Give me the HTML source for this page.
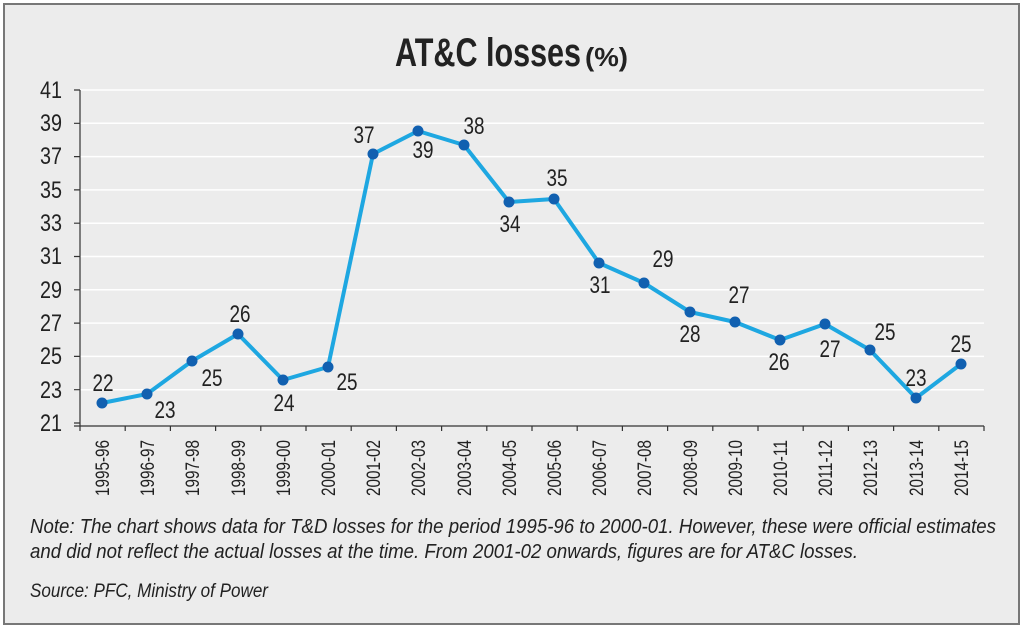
<!DOCTYPE html>
<html><head><meta charset="utf-8"><style>
body{margin:0;background:#fff;}
svg text{font-family:"Liberation Sans",sans-serif;}
</style></head><body>
<svg width="1024" height="629" viewBox="0 0 1024 629" xmlns="http://www.w3.org/2000/svg">
<rect x="4" y="4" width="1015" height="620" fill="#ececec" stroke="#777" stroke-width="2"/>
<text x="395" y="66" font-size="40" font-weight="bold" fill="#222" textLength="186" lengthAdjust="spacingAndGlyphs">AT&amp;C losses</text>
<text x="585" y="66" font-size="26" font-weight="bold" fill="#222" textLength="43" lengthAdjust="spacingAndGlyphs">(%)</text>
<g stroke="#fff" stroke-width="1.5">
<line x1="80" x2="984" y1="90" y2="90"/><line x1="80" x2="984" y1="123.3" y2="123.3"/><line x1="80" x2="984" y1="156.6" y2="156.6"/><line x1="80" x2="984" y1="189.9" y2="189.9"/><line x1="80" x2="984" y1="223.2" y2="223.2"/><line x1="80" x2="984" y1="256.5" y2="256.5"/><line x1="80" x2="984" y1="289.8" y2="289.8"/><line x1="80" x2="984" y1="323.1" y2="323.1"/><line x1="80" x2="984" y1="356.4" y2="356.4"/><line x1="80" x2="984" y1="389.7" y2="389.7"/>
</g>
<g stroke="#333" stroke-width="1.2" fill="none">
<line x1="80" y1="90" x2="80" y2="426"/><line x1="74" y1="426" x2="984" y2="426"/>
<path d="M74 90h6M74 123.3h6M74 156.6h6M74 189.9h6M74 223.2h6M74 256.5h6M74 289.8h6M74 323.1h6M74 356.4h6M74 389.7h6M74 423h6"/>
<path d="M80 426v5M125.2 426v5M170.4 426v5M215.6 426v5M260.8 426v5M306 426v5M351.2 426v5M396.4 426v5M441.6 426v5M486.8 426v5M532 426v5M577.2 426v5M622.4 426v5M667.6 426v5M712.8 426v5M758 426v5M803.2 426v5M848.4 426v5M893.6 426v5M938.8 426v5M984 426v5"/>
</g>
<g font-size="24" fill="#222" text-anchor="end">
<text x="62" y="98" textLength="22" lengthAdjust="spacingAndGlyphs">41</text><text x="62" y="131" textLength="22" lengthAdjust="spacingAndGlyphs">39</text><text x="62" y="164" textLength="22" lengthAdjust="spacingAndGlyphs">37</text><text x="62" y="198" textLength="22" lengthAdjust="spacingAndGlyphs">35</text><text x="62" y="231" textLength="22" lengthAdjust="spacingAndGlyphs">33</text><text x="62" y="264" textLength="22" lengthAdjust="spacingAndGlyphs">31</text><text x="62" y="298" textLength="22" lengthAdjust="spacingAndGlyphs">29</text><text x="62" y="331" textLength="22" lengthAdjust="spacingAndGlyphs">27</text><text x="62" y="364" textLength="22" lengthAdjust="spacingAndGlyphs">25</text><text x="62" y="398" textLength="22" lengthAdjust="spacingAndGlyphs">23</text><text x="62" y="431" textLength="22" lengthAdjust="spacingAndGlyphs">21</text>
</g>
<g font-size="19" fill="#222" text-anchor="end">
<text transform="translate(109,440) rotate(-90)" textLength="56" lengthAdjust="spacingAndGlyphs">1995-96</text>
<text transform="translate(154,440) rotate(-90)" textLength="56" lengthAdjust="spacingAndGlyphs">1996-97</text>
<text transform="translate(199,440) rotate(-90)" textLength="56" lengthAdjust="spacingAndGlyphs">1997-98</text>
<text transform="translate(245,440) rotate(-90)" textLength="56" lengthAdjust="spacingAndGlyphs">1998-99</text>
<text transform="translate(290,440) rotate(-90)" textLength="56" lengthAdjust="spacingAndGlyphs">1999-00</text>
<text transform="translate(335,440) rotate(-90)" textLength="56" lengthAdjust="spacingAndGlyphs">2000-01</text>
<text transform="translate(380,440) rotate(-90)" textLength="56" lengthAdjust="spacingAndGlyphs">2001-02</text>
<text transform="translate(425,440) rotate(-90)" textLength="56" lengthAdjust="spacingAndGlyphs">2002-03</text>
<text transform="translate(471,440) rotate(-90)" textLength="56" lengthAdjust="spacingAndGlyphs">2003-04</text>
<text transform="translate(516,440) rotate(-90)" textLength="56" lengthAdjust="spacingAndGlyphs">2004-05</text>
<text transform="translate(561,440) rotate(-90)" textLength="56" lengthAdjust="spacingAndGlyphs">2005-06</text>
<text transform="translate(606,440) rotate(-90)" textLength="56" lengthAdjust="spacingAndGlyphs">2006-07</text>
<text transform="translate(651,440) rotate(-90)" textLength="56" lengthAdjust="spacingAndGlyphs">2007-08</text>
<text transform="translate(697,440) rotate(-90)" textLength="56" lengthAdjust="spacingAndGlyphs">2008-09</text>
<text transform="translate(742,440) rotate(-90)" textLength="56" lengthAdjust="spacingAndGlyphs">2009-10</text>
<text transform="translate(787,440) rotate(-90)" textLength="56" lengthAdjust="spacingAndGlyphs">2010-11</text>
<text transform="translate(832,440) rotate(-90)" textLength="56" lengthAdjust="spacingAndGlyphs">2011-12</text>
<text transform="translate(877,440) rotate(-90)" textLength="56" lengthAdjust="spacingAndGlyphs">2012-13</text>
<text transform="translate(923,440) rotate(-90)" textLength="56" lengthAdjust="spacingAndGlyphs">2013-14</text>
<text transform="translate(968,440) rotate(-90)" textLength="56" lengthAdjust="spacingAndGlyphs">2014-15</text>
</g>
<polyline fill="none" stroke="#1ea7e1" stroke-width="4" stroke-linejoin="round" points="102,403 147,394 192,361 238,334 283,380 328,367 373,154 418,131 464,145 509,202 554,199 599,263 644,283 690,312 735,322 780,340 825,324 870,350 916,398 961,364"/>
<g fill="#1160b0">
<circle cx="102" cy="403" r="5.5"/><circle cx="147" cy="394" r="5.5"/><circle cx="192" cy="361" r="5.5"/><circle cx="238" cy="334" r="5.5"/><circle cx="283" cy="380" r="5.5"/><circle cx="328" cy="367" r="5.5"/><circle cx="373" cy="154" r="5.5"/><circle cx="418" cy="131" r="5.5"/><circle cx="464" cy="145" r="5.5"/><circle cx="509" cy="202" r="5.5"/><circle cx="554" cy="199" r="5.5"/><circle cx="599" cy="263" r="5.5"/><circle cx="644" cy="283" r="5.5"/><circle cx="690" cy="312" r="5.5"/><circle cx="735" cy="322" r="5.5"/><circle cx="780" cy="340" r="5.5"/><circle cx="825" cy="324" r="5.5"/><circle cx="870" cy="350" r="5.5"/><circle cx="916" cy="398" r="5.5"/><circle cx="961" cy="364" r="5.5"/>
</g>
<g font-size="24" fill="#222" text-anchor="middle">
<text x="103" y="391" textLength="21" lengthAdjust="spacingAndGlyphs">22</text>
<text x="165" y="418" textLength="21" lengthAdjust="spacingAndGlyphs">23</text>
<text x="212" y="386" textLength="21" lengthAdjust="spacingAndGlyphs">25</text>
<text x="240" y="322" textLength="21" lengthAdjust="spacingAndGlyphs">26</text>
<text x="284" y="411" textLength="21" lengthAdjust="spacingAndGlyphs">24</text>
<text x="347" y="390" textLength="21" lengthAdjust="spacingAndGlyphs">25</text>
<text x="364" y="143" textLength="21" lengthAdjust="spacingAndGlyphs">37</text>
<text x="423" y="158" textLength="21" lengthAdjust="spacingAndGlyphs">39</text>
<text x="474" y="134" textLength="21" lengthAdjust="spacingAndGlyphs">38</text>
<text x="510" y="232" textLength="21" lengthAdjust="spacingAndGlyphs">34</text>
<text x="557" y="186" textLength="21" lengthAdjust="spacingAndGlyphs">35</text>
<text x="600" y="293" textLength="21" lengthAdjust="spacingAndGlyphs">31</text>
<text x="663" y="267" textLength="21" lengthAdjust="spacingAndGlyphs">29</text>
<text x="690" y="342" textLength="21" lengthAdjust="spacingAndGlyphs">28</text>
<text x="739" y="303" textLength="21" lengthAdjust="spacingAndGlyphs">27</text>
<text x="779" y="370" textLength="21" lengthAdjust="spacingAndGlyphs">26</text>
<text x="830" y="357" textLength="21" lengthAdjust="spacingAndGlyphs">27</text>
<text x="885" y="340" textLength="21" lengthAdjust="spacingAndGlyphs">25</text>
<text x="916" y="386" textLength="21" lengthAdjust="spacingAndGlyphs">23</text>
<text x="961" y="352" textLength="21" lengthAdjust="spacingAndGlyphs">25</text>
</g>
<g font-size="20" font-style="italic" fill="#222">
<text x="30" y="533" textLength="966" lengthAdjust="spacingAndGlyphs">Note: The chart shows data for T&amp;D losses for the period 1995-96 to 2000-01. However, these were official estimates</text>
<text x="30" y="558" textLength="828" lengthAdjust="spacingAndGlyphs">and did not reflect the actual losses at the time. From 2001-02 onwards, figures are for AT&amp;C losses.</text>
<text x="30" y="597" font-size="19" textLength="238" lengthAdjust="spacingAndGlyphs">Source: PFC, Ministry of Power</text>
</g>
</svg>
</body></html>
